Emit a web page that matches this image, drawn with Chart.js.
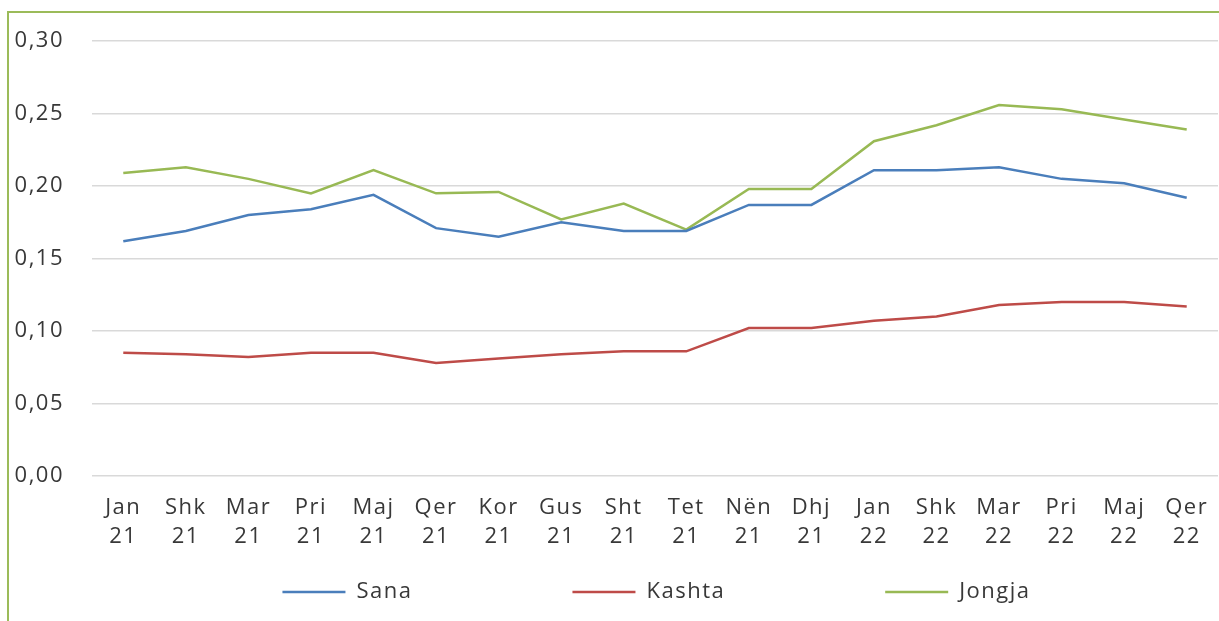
<!DOCTYPE html>
<html>
<head>
<meta charset="utf-8">
<script src="https://cdn.jsdelivr.net/npm/chart.js@4/dist/chart.umd.min.js"></script>
<style>
  html, body { margin: 0; padding: 0; background: #ffffff; overflow: hidden; }
  #frame { position: absolute; left: 7px; top: 11px; width: 2000px; height: 2000px;
           border-left: 2px solid #9bbb59; border-top: 2px solid #9bbb59; }
  #c { position: absolute; left: 0; top: 0; }
</style>
</head>
<body>
<div id="frame"></div>
<canvas id="c" width="1219" height="621"></canvas>
<script>
const months = ['Jan','Shk','Mar','Pri','Maj','Qer','Kor','Gus','Sht','Tet','Nën','Dhj','Jan','Shk','Mar','Pri','Maj','Qer'];
const years  = ['21','21','21','21','21','21','21','21','21','21','21','21','22','22','22','22','22','22'];
const seriesNames = ['Sana','Kashta','Jongja'];
const sana   = [0.162,0.169,0.180,0.184,0.194,0.171,0.165,0.175,0.169,0.169,0.187,0.187,0.211,0.211,0.213,0.205,0.202,0.192];
const kashta = [0.085,0.084,0.082,0.085,0.085,0.078,0.081,0.084,0.086,0.086,0.102,0.102,0.107,0.110,0.118,0.120,0.120,0.117];
const jongja = [0.209,0.213,0.205,0.195,0.211,0.195,0.196,0.177,0.188,0.170,0.198,0.198,0.231,0.242,0.256,0.253,0.246,0.239];
const yTicks = [0, 0.05, 0.10, 0.15, 0.20, 0.25, 0.30];

const colors = ['#4a7ebb', '#be4b48', '#98b954'];
const textColor = '#383838';
const FONT = '"Open Sans", "Liberation Sans", sans-serif';
const FSIZE = 22;
const LEGEND_PAD = 160;

const spacingPlugin = {
  id: 'spacing',
  beforeUpdate(chart) { chart.ctx.letterSpacing = '1.5px'; },
  beforeDraw(chart) { chart.ctx.letterSpacing = '1.5px'; },
  afterLayout(chart) {
    const lg = chart.legend;
    if (lg) { lg.top = lg.bottom - LEGEND_PAD - 40; lg.left += 3; }
  }
};

function build() {
  const labels = months.map((m, i) => [m, years[i]]);
  const data = [sana, kashta, jongja];
  new Chart(document.getElementById('c'), {
    type: 'line',
    data: {
      labels: labels,
      datasets: seriesNames.map((n, i) => ({
        label: n,
        data: data[i],
        borderColor: colors[i],
        backgroundColor: colors[i],
        borderWidth: 2.5,
        pointRadius: 0,
        pointHoverRadius: 0,
        tension: 0,
        fill: false
      }))
    },
    options: {
      responsive: false,
      animation: false,
      devicePixelRatio: 1,
      layout: { padding: { left: 11, right: 1, top: 41, bottom: 0 } },
      scales: {
        x: {
          offset: true,
          afterFit(axis) { axis.paddingLeft = 0; axis.paddingRight = 0; },
          grid: { display: false, drawTicks: false },
          border: { display: false },
          ticks: {
            color: textColor,
            font: { family: FONT, size: FSIZE, lineHeight: 1.32 },
            maxRotation: 0, minRotation: 0, autoSkip: false,
            padding: 17
          }
        },
        y: {
          min: 0, max: 0.3,
          afterBuildTicks(axis) { axis.ticks = yTicks.map(v => ({ value: v })); },
          afterFit(axis) { axis.width = 81; },
          grid: { color: '#d9d9d9', lineWidth: 1.6, drawTicks: false },
          border: { display: false },
          ticks: {
            color: textColor,
            font: { family: FONT, size: FSIZE },
            padding: 28,
            callback: v => v.toFixed(2).replace('.', ',')
          }
        }
      },
      plugins: {
        tooltip: { enabled: false },
        legend: {
          position: 'bottom',
          fullSize: false,
          maxHeight: 53,
          labels: {
            color: textColor,
            font: { family: FONT, size: FSIZE },
            boxWidth: 63,
            boxHeight: 2.5,
            padding: LEGEND_PAD,
            generateLabels(chart) {
              return chart.data.datasets.map((ds, i) => ({
                text: ds.label,
                fillStyle: ds.borderColor,
                strokeStyle: ds.borderColor,
                lineWidth: 0,
                fontColor: textColor,
                hidden: false,
                datasetIndex: i
              }));
            }
          }
        }
      }
    },
    plugins: [spacingPlugin]
  });
}

if (document.fonts && document.fonts.load) {
  Promise.all([document.fonts.load('22px "Open Sans"')]).then(build, build);
} else { build(); }
</script>
</body>
</html>
